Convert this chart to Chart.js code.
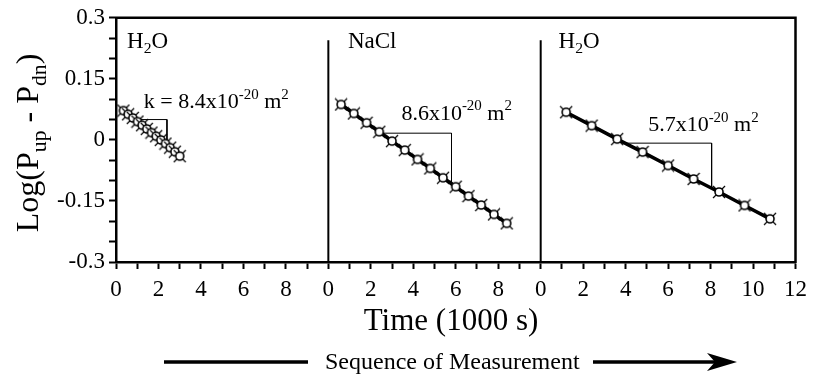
<!DOCTYPE html>
<html>
<head>
<meta charset="utf-8">
<script src="https://cdn.jsdelivr.net/npm/chart.js@4/dist/chart.umd.min.js"></script>
<style>
html,body{margin:0;padding:0;background:#fff;}
#wrap{width:814px;height:379px;}
</style>
</head>
<body>
<div id="wrap"><canvas id="mycanvas"></canvas></div>
<script>
// panels laid side by side on one time axis, each panel is 10 units wide (last one 12)
var panelStart = [0, 10, 20];
var panelNames = ['H', 'NaCl', 'H'];   // H2O drawn with subscript
var dividerTop = 0.245;

// panel 1 : H2O
var time1 = [0.35, 0.57, 0.79, 1.01, 1.23, 1.45, 1.67, 1.89, 2.11, 2.33, 2.55, 2.77, 3.0];
var logdp1 = [0.072, 0.063, 0.054, 0.045, 0.036, 0.027, 0.018, 0.009, 0.000, -0.009, -0.019, -0.029, -0.040];
// panel 2 : NaCl
var time2 = [0.6, 1.2, 1.8, 2.4, 3.0, 3.6, 4.2, 4.8, 5.4, 6.0, 6.6, 7.2, 7.8, 8.4];
var logdp2 = [0.087, 0.065, 0.042, 0.020, -0.003, -0.025, -0.048, -0.070, -0.093, -0.115, -0.138, -0.160, -0.183, -0.205];
// panel 3 : H2O
var time3 = [1.2, 2.4, 3.6, 4.8, 6.0, 7.2, 8.4, 9.6, 10.8];
var logdp3 = [0.068, 0.035, 0.002, -0.030, -0.063, -0.096, -0.128, -0.161, -0.194];

// slope triangles (panel-local time, value)
var tri1x = [0.8, 2.4, 2.4], tri1y = [0.05, 0.05, 0.0];
var tri2x = [2.5, 5.8, 5.8], tri2y = [0.0165, 0.0165, -0.107];
var tri3x = [3.9, 8.05, 8.05], tri3y = [-0.008, -0.008, -0.118];

var kLabels = ['k = 8.4x10', '8.6x10', '5.7x10'];
var kPosX = [1.31, 13.44, 25.06];
var kPosY = [0.079, 0.050, 0.021];

var xTickValues = [0, 2, 4, 6, 8, 10, 12, 14, 16, 18, 20, 22, 24, 26, 28, 30, 32];
var xTickLabels = ['0','2','4','6','8','0','2','4','6','8','0','2','4','6','8','10','12'];
var yTickValues = [-30, -15, 0, 15, 30];
var yTickLabels = ['-0.3','-0.15','0','0.15','0.3'];

Chart.defaults.font.family = "'Liberation Serif', 'Times New Roman', serif";
Chart.defaults.color = '#000';

function toXY(xs, ys, off){
	var out = [];
	for (var i in xs) out.push({x: xs[i] + off, y: ys[i]});
	return out;
}

function makeMarker(){
	var c = document.createElement('canvas');
	c.width = 14; c.height = 14;
	var g = c.getContext('2d');
	g.strokeStyle = '#000';
	g.lineWidth = 1.2;
	g.beginPath();
	g.moveTo(1, 1); g.lineTo(13, 13);
	g.moveTo(13, 1); g.lineTo(1, 13);
	g.stroke();
	g.beginPath();
	g.arc(7, 7, 4, 0, Math.PI * 2);
	g.fillStyle = '#fff';
	g.fill();
	g.lineWidth = 1.6;
	g.stroke();
	return c;
}
var marker = makeMarker();

function series(xs, ys, off){
	return {
		data: toXY(xs, ys, off),
		borderColor: '#000',
		borderWidth: 3.5,
		pointStyle: marker,
		pointRadius: 7,
		tension: 0
	};
}
function thin(xs, ys, off, w){
	return {
		data: toXY(xs, ys, off),
		borderColor: '#000',
		borderWidth: w,
		pointRadius: 0,
		tension: 0
	};
}

// text with sub/superscripts, parts = [[text, shift]] shift: 0 normal, 1 sup, -1 sub
function drawParts(ctx, parts, x, y, size, center){
	var total = 0, i;
	for (i = 0; i < parts.length; i++){
		ctx.font = (parts[i][1] ? size * 0.68 : size) + "px 'Liberation Serif'";
		total += ctx.measureText(parts[i][0]).width;
	}
	var cx = center ? x - total / 2 : x;
	for (i = 0; i < parts.length; i++){
		var s = parts[i][1] ? size * 0.68 : size;
		ctx.font = s + "px 'Liberation Serif'";
		var dy = parts[i][1] === 1 ? -size * 0.42 : (parts[i][1] === -1 ? size * 0.25 : 0);
		ctx.fillText(parts[i][0], cx, y + dy);
		cx += ctx.measureText(parts[i][0]).width;
	}
}

var decorations = {
	id: 'decorations',
	afterDraw: function(chart){
		var ctx = chart.ctx, a = chart.chartArea;
		var xs = chart.scales.x, ys = chart.scales.y;
		ctx.save();
		ctx.fillStyle = '#000';
		ctx.strokeStyle = '#000';
		// frame top + right
		ctx.lineWidth = 2.5;
		ctx.beginPath();
		ctx.moveTo(a.left - 1, a.top);
		ctx.lineTo(a.right, a.top);
		ctx.lineTo(a.right, a.bottom + 1);
		ctx.stroke();

		ctx.textBaseline = 'alphabetic';
		ctx.textAlign = 'left';
		// panel names
		var py = ys.getPixelForValue(0.227);
		for (var p = 0; p < 3; p++){
			var px = xs.getPixelForValue(panelStart[p] + 0.52 + (p == 1 ? 0.4 : (p == 2 ? 0.32 : 0)));
			if (panelNames[p] == 'H') drawParts(ctx, [['H', 0], ['2', -1], ['O', 0]], px, py, 23, false);
			else drawParts(ctx, [[panelNames[p], 0]], px, py, 23, false);
		}
		// slope labels
		for (var k = 0; k < 3; k++){
			drawParts(ctx, [[kLabels[k], 0], ['-20', 1], [' m', 0], ['2', 1]],
				xs.getPixelForValue(kPosX[k]), ys.getPixelForValue(kPosY[k]), 22, false);
		}
		// axis titles
		drawParts(ctx, [['Time (1000 s)', 0]], 451, 330, 31, true);
		ctx.save();
		ctx.translate(38, (a.top + a.bottom) / 2 + 3);
		ctx.rotate(-Math.PI / 2);
		drawParts(ctx, [['Log(P', 0], ['up', -1], [' - P', 0], ['dn', -1], [')', 0]], 0, 0, 32, true);
		ctx.restore();

		// sequence of measurement
		ctx.textBaseline = 'middle';
		ctx.font = "24px 'Liberation Serif'";
		ctx.fillText('Sequence of Measurement', 325, 363);
		ctx.lineWidth = 3.5;
		ctx.beginPath();
		ctx.moveTo(164, 362); ctx.lineTo(308, 362);
		ctx.moveTo(593, 362); ctx.lineTo(715, 362);
		ctx.stroke();
		ctx.beginPath();
		ctx.moveTo(737, 362);
		ctx.lineTo(707, 353);
		ctx.lineTo(715, 362);
		ctx.lineTo(707, 371);
		ctx.closePath();
		ctx.fill();
		ctx.restore();
	}
};

var ctx = document.getElementById('mycanvas');
var chart = new Chart(ctx, {
	type: 'line',
	data: {
		datasets: [
			series(time1, logdp1, panelStart[0]),
			series(time2, logdp2, panelStart[1]),
			series(time3, logdp3, panelStart[2]),
			thin(tri1x, tri1y, panelStart[0], 1),
			thin(tri2x, tri2y, panelStart[1], 1),
			thin(tri3x, tri3y, panelStart[2], 1),
			thin([0, 0], [dividerTop, -0.3], panelStart[1], 2),
			thin([0, 0], [dividerTop, -0.3], panelStart[2], 2)
		]
	},
	options: {
		responsive: true,
		maintainAspectRatio: false,
		animation: false,
		layout: {padding: {top: 15, right: 15, left: 0, bottom: 0}},
		plugins: {legend: {display: false}, tooltip: {enabled: false}},
		scales: {
			x: {
				type: 'linear',
				min: 0, max: 32,
				afterFit: function(s){ s.height = 117; },
				ticks: {
					stepSize: 1, autoSkip: false, maxRotation: 0, padding: 7,
					font: {size: 23},
					callback: function(v){
						var i = xTickValues.indexOf(Math.round(v));
						return i >= 0 ? xTickLabels[i] : '';
					}
				},
				grid: {drawOnChartArea: false, tickLength: 7, tickWidth: 2, tickColor: '#000'},
				border: {width: 2.5, color: '#000'}
			},
			y: {
				min: -0.3, max: 0.3,
				afterFit: function(s){ s.width = 116; },
				ticks: {
					stepSize: 0.05, autoSkip: false, padding: 4,
					font: {size: 23},
					callback: function(v){
						var i = yTickValues.indexOf(Math.round(v * 100));
						return i >= 0 ? yTickLabels[i] : '';
					}
				},
				grid: {drawOnChartArea: false, tickLength: 7, tickWidth: 2, tickColor: '#000'},
				border: {width: 2.5, color: '#000'}
			}
		}
	},
	plugins: [decorations]
});
</script>
</body>
</html>
